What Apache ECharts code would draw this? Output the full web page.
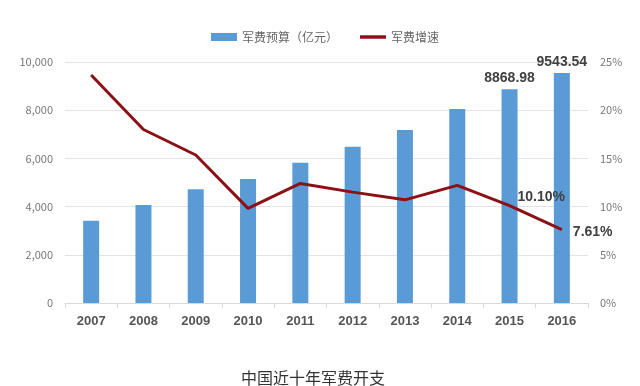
<!DOCTYPE html>
<html><head><meta charset="utf-8">
<script src="https://cdn.jsdelivr.net/npm/echarts@6/dist/echarts.min.js"></script>
<style>html,body{margin:0;padding:0;background:#fff}#c{width:640px;height:386px}</style>
</head><body><div id="c"></div>
<script>
const years = ['2007','2008','2009','2010','2011','2012','2013','2014','2015','2016'];
const budget = [3415, 4066, 4718, 5145, 5822, 6485, 7178, 8050, 8868.98, 9543.54];
const growth = [23.65, 18.0, 15.35, 9.82, 12.4, 11.5, 10.7, 12.2, 10.10, 7.61];
const leftTicks = [0, 2000, 4000, 6000, 8000, 10000];
const rightTicks = [0, 5, 10, 15, 20, 25];
const labeledIdx = [8, 9];

const chart = echarts.init(document.getElementById('c'));
const font = 'Noto Sans CJK SC, Noto Sans, sans-serif';
const numFont = 'Liberation Sans, Arial, sans-serif';
chart.setOption({
  animation: false,
  textStyle: { fontFamily: font },
  title: {
    text: '中国近十年军费开支', left: 308, top: 365, textAlign: 'center',
    textStyle: { fontSize: 16, fontWeight: 'normal', color: '#333', fontFamily: font }
  },
  legend: {
    top: 26, left: 206, itemGap: 22, itemWidth: 26, itemHeight: 8,
    textStyle: { color: '#666', fontSize: 12, fontFamily: font },
    data: [
      { name: '军费预算（亿元）', icon: 'rect' },
      { name: '军费增速', icon: 'path://M0,0 L30,0 L30,4 L0,4 Z' }
    ]
  },
  grid: { left: 65, right: 52, top: 62, bottom: 83 },
  xAxis: {
    type: 'category', data: years, boundaryGap: true,
    axisLine: { lineStyle: { color: '#d9d9d9' } },
    axisTick: { show: true, length: 5, lineStyle: { color: '#d9d9d9' } },
    axisLabel: { color: '#555', fontSize: 13, fontWeight: 'bold', margin: 12, fontFamily: numFont }
  },
  yAxis: [
    {
      type: 'value', min: 0, max: 10000, interval: 2000,
      axisLine: { show: false }, axisTick: { show: false },
      splitLine: { lineStyle: { color: '#e3e3e3' } },
      axisLabel: { color: '#777', fontSize: 11, margin: 12,
        formatter: v => v.toLocaleString('en-US') }
    },
    {
      type: 'value', min: 0, max: 25, interval: 5,
      axisLine: { show: false }, axisTick: { show: false },
      splitLine: { show: false },
      axisLabel: { color: '#777', fontSize: 11, margin: 12, formatter: '{value}%' }
    }
  ],
  series: [
    {
      name: '军费预算（亿元）', type: 'bar', barWidth: 16,
      itemStyle: { color: '#5b9bd5' },
      data: budget.map((v, i) => labeledIdx.includes(i) ? {
        value: v,
        label: { show: true, position: 'top', distance: 4, color: '#404040', fontSize: 14, fontWeight: 'bold',
          fontFamily: numFont, formatter: p => p.value.toFixed(2) }
      } : v)
    },
    {
      name: '军费增速', type: 'line', yAxisIndex: 1,
      symbol: 'circle', symbolSize: 0, showSymbol: true,
      lineStyle: { color: '#8b1116', width: 3 },
      itemStyle: { color: '#8b1116' },
      data: growth.map((v, i) => i === 8 ? {
        value: v,
        label: { show: true, position: 'right', offset: [3, -8], color: '#404040', fontSize: 14, fontWeight: 'bold',
          fontFamily: numFont, formatter: p => p.value.toFixed(2) + '%' }
      } : i === 9 ? {
        value: v,
        label: { show: true, position: 'right', distance: 10, offset: [1, 3], color: '#404040', fontSize: 14, fontWeight: 'bold',
          fontFamily: numFont, formatter: p => p.value.toFixed(2) + '%' }
      } : v)
    }
  ]
});
</script></body></html>
